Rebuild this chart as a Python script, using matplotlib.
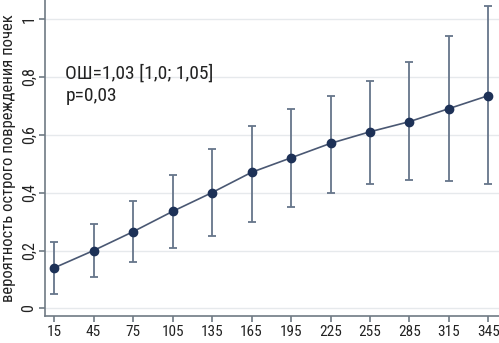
import matplotlib
matplotlib.use("Agg")
import matplotlib.pyplot as plt

# Данные
x_vals = [15, 45, 75, 105, 135, 165, 195, 225, 255, 285, 315, 345]
prob = [0.14, 0.20, 0.265, 0.335, 0.40, 0.47, 0.52, 0.57, 0.61, 0.645, 0.69, 0.735]
ci_low = [0.05, 0.11, 0.16, 0.21, 0.25, 0.30, 0.35, 0.40, 0.43, 0.445, 0.44, 0.43]
ci_high = [0.23, 0.29, 0.37, 0.46, 0.55, 0.63, 0.69, 0.735, 0.785, 0.85, 0.94, 1.045]
y_ticks = [0, 0.2, 0.4, 0.6, 0.8, 1]
y_labels = ["0", "0,2", "0,4", "0,6", "0,8", "1"]

plt.rcParams['font.family'] = ['Roboto Condensed', 'Liberation Sans', 'DejaVu Sans']

fig = plt.figure(figsize=(4.99, 3.43), dpi=100)
ax = fig.add_axes([0.090, 0.078, 0.910, 0.922])

err = [[p - lo for p, lo in zip(prob, ci_low)], [hi - p for p, hi in zip(prob, ci_high)]]
ax.errorbar(x_vals, prob, yerr=err, fmt='none', ecolor='#66758a', elinewidth=1.3,
            capsize=3, capthick=1.3, zorder=2)
ax.plot(x_vals, prob, color='#4a5873', linewidth=1.2, marker='o', markersize=6,
        markerfacecolor='#1d3157', markeredgecolor='#1d3157', zorder=3)

ax.set_xlim(8, 353)
ax.set_ylim(-0.027, 1.065)
ax.set_xticks(x_vals)
ax.set_xticklabels([str(v) for v in x_vals], fontsize=11)
ax.set_yticks(y_ticks)
ax.set_yticklabels(y_labels, fontsize=11.5, rotation=90, va='center')
ax.grid(axis='y', color='#e6e9ec', linewidth=1)
ax.set_axisbelow(True)

for side in ['top', 'right']:
    ax.spines[side].set_visible(False)
for side in ['left', 'bottom']:
    ax.spines[side].set_color('#707a84')
    ax.spines[side].set_linewidth(1.2)
ax.tick_params(colors='#707a84', labelcolor='#222222', length=4, width=1.2, pad=2)

ax.set_ylabel("вероятность острого повреждения почек", fontsize=12, color='#222222', labelpad=4)
ax.text(0.045, 0.795, "ОШ=1,03 [1,0; 1,05]\np=0,03", transform=ax.transAxes,
        fontsize=14, color='#222222', va='top', linespacing=1.25)

fig.savefig("out.png", dpi=100)
